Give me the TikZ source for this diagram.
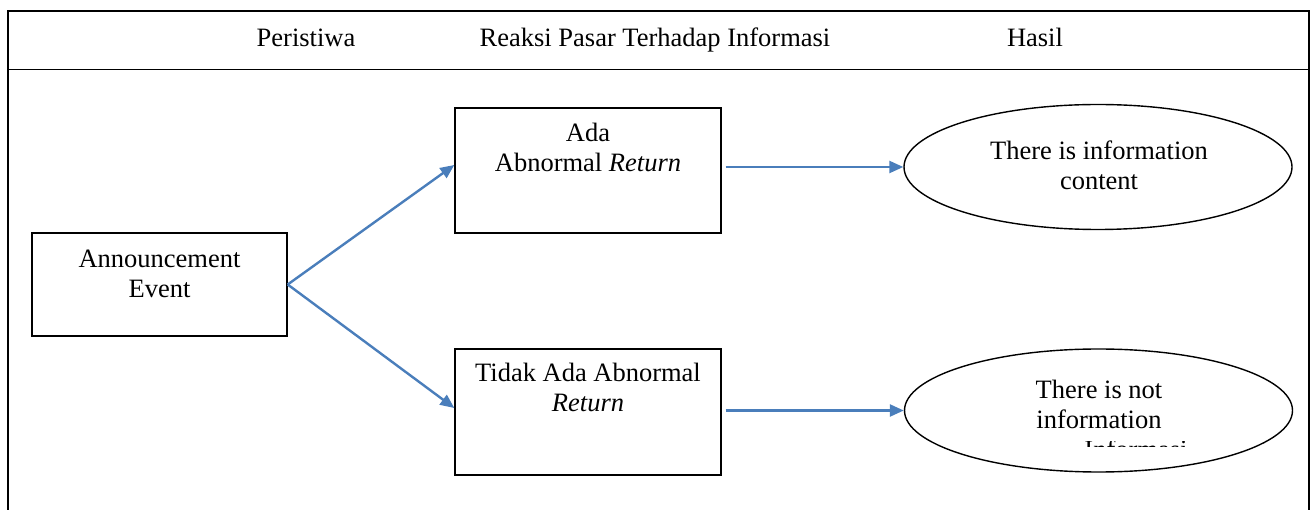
\documentclass[tikz,border=0pt]{standalone}
\usepackage{fontspec}
\setmainfont{Liberation Serif}
\usetikzlibrary{arrows.meta,shapes.geometric}
\definecolor{arrblue}{HTML}{4A7EBB}
\begin{document}
\begin{tikzpicture}[x=1pt,y=-1pt,
  frame/.style={line width=1.6pt},
  stepbox/.style={draw, line width=1.4pt, inner sep=0pt},
  txt/.style={font=\fontsize{26.5}{30}\selectfont, align=center, anchor=base, inner sep=0pt},
  conn/.style={draw=arrblue, line width=2.4pt, -{Triangle[length=14pt,width=12pt]}},
  oval/.style={draw, ellipse, line width=1.4pt, inner sep=0pt, minimum width=388pt, minimum height=125pt}]
\useasboundingbox (0,0) rectangle (1310,510);
% frame and header
\coordinate (fbl) at (8,515);
\coordinate (ftl) at (8,11);
\coordinate (ftr) at (1309,11);
\coordinate (fbr) at (1309,515);
\draw[frame] (fbl) -- (ftl) -- (ftr) -- (fbr);
\coordinate (hl) at (8,69.5);
\coordinate (hr) at (1309,69.5);
\draw[line width=1.4pt] (hl) -- (hr);
\node[txt] (h1) at (306,47) {Peristiwa};
\node[txt] (h2) at (655,47) {Reaksi Pasar Terhadap Informasi};
\node[txt] (h3) at (1035,47) {Hasil};
% boxes
\node[stepbox, minimum width=255pt, minimum height=103pt] (ann) at (159.5,284.5) {};
\node[txt] (anntxt) at (159.5,298) {Announcement\\Event};
\node[stepbox, minimum width=266pt, minimum height=125pt] (abn) at (588,170.5) {};
\node[txt] (abntxt) at (588,172) {Ada\\Abnormal \textit{Return}};
\node[stepbox, minimum width=266pt, minimum height=126pt] (noabn) at (588,412) {};
\node[txt] (noabntxt) at (588,412) {Tidak Ada Abnormal\\\textit{Return}};
% ellipses
\node[oval] (info) at (1098,167) {};
\node[txt] (infotxt) at (1099,190) {There is information\\content};
\node[oval, minimum height=123pt] (noinfo) at (1098.5,410.5) {};
\node[txt] (noinfotxt) at (1099,429) {There is not\\information};
\begin{scope}
  \clip (1050,441.5) rectangle (1250,446.5);
  \node[txt] (cut) at (1136,459) {Informasi};
\end{scope}
% connectors
\draw[conn] (ann.east) -- ([yshift=5.5pt]abn.west);
\draw[conn] (ann.east) -- ([yshift=4pt]noabn.west);
\draw[conn, shorten <=4pt] (abn.east |- info.west) -- (info.west);
\draw[conn, shorten <=4pt] (noabn.east |- noinfo.west) -- (noinfo.west);
\end{tikzpicture}
\end{document}
